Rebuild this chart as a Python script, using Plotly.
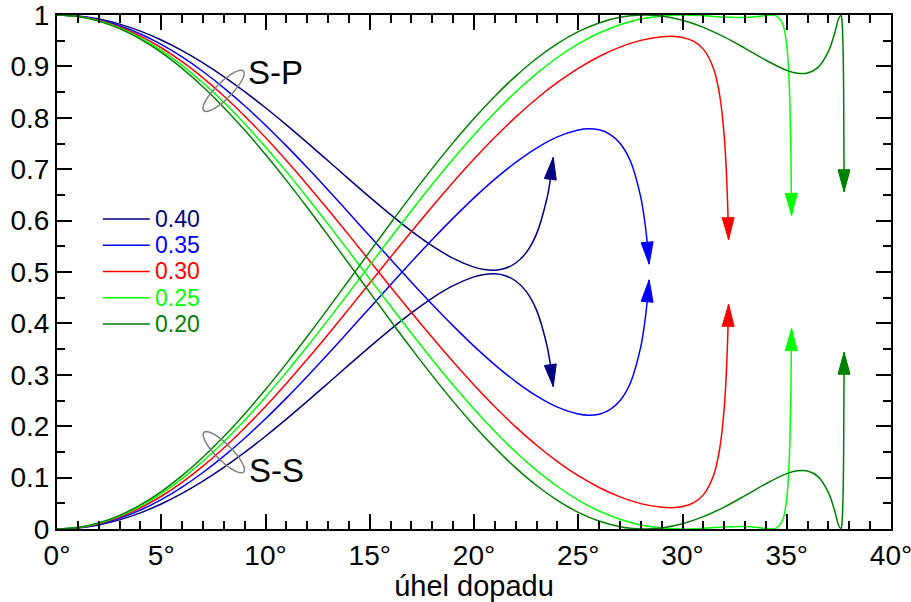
import math
import plotly.graph_objects as go

# ---------------- data ----------------
ratio_labels = ["0.40", "0.35", "0.30", "0.25", "0.20"]
colors = ["#000080", "#0000ff", "#ff0000", "#00ff00", "#008000"]

x_040 = [0, 1, 2, 3, 4, 5, 6, 7, 8, 9, 10, 11, 12, 13, 14, 15, 16, 17, 18, 19, 20,
         20.5, 21, 21.5, 22, 22.5, 23, 23.5, 23.65, 23.8]
sp_040 = [1, .9980, .9921, .9823, .9686, .9514, .9308, .9070, .8803, .8510, .8195,
          .7863, .7518, .7164, .6808, .6456, .6115, .5795, .5506, .5265, .5095,
          .5048, .5036, .5072, .5175, .5376, .5742, .6434, .6770, .7228]
ss_040 = [0, .0020, .0079, .0177, .0314, .0486, .0692, .0930, .1197, .1490, .1805,
          .2137, .2482, .2836, .3192, .3544, .3885, .4205, .4494, .4735, .4905,
          .4952, .4964, .4928, .4825, .4624, .4258, .3566, .3230, .2772]

x_035 = [0, 1, 2, 3, 4, 5, 6, 7, 8, 9, 10, 11, 12, 13, 14, 15, 16, 17, 18, 19, 20,
         21, 22, 23, 24, 25, 25.5, 26, 26.5, 27, 27.5, 28, 28.2, 28.3, 28.4]
sp_035 = [1, .9977, .9907, .9791, .9631, .9427, .9183, .8901, .8583, .8234, .7856,
          .7454, .7033, .6597, .6150, .5699, .5248, .4802, .4368, .3952, .3558,
          .3194, .2868, .2589, .2370, .2236, .2213, .2234, .2316, .2494, .2840,
          .3547, .4052, .4398, .4847]
ss_035 = [0, .0023, .0093, .0209, .0369, .0573, .0817, .1099, .1417, .1766, .2144,
          .2546, .2967, .3403, .3850, .4301, .4752, .5198, .5632, .6048, .6442,
          .6806, .7132, .7411, .7630, .7764, .7787, .7766, .7684, .7506, .7160,
          .6453, .5948, .5602, .5153]

x_030 = [0, 1, 2, 3, 4, 5, 6, 7, 8, 9, 10, 11, 12, 13, 14, 15, 16, 17, 18, 19, 20,
         21, 22, 23, 24, 25, 26, 27, 28, 29, 29.5, 30, 30.5, 31, 31.5, 31.8, 32,
         32.1, 32.2, 32.21]
sp_030 = [1, .9974, .9896, .9767, .9589, .9363, .9091, .8777, .8424, .8035, .7615,
          .7168, .6699, .6214, .5717, .5214, .4710, .4212, .3724, .3252, .2802,
          .2378, .1986, .1629, .1312, .1037, .0807, .0625, .0494, .0422, .0414,
          .0436, .0504, .0664, .1057, .1605, .2350, .3010, .4160, .4370]
ss_030 = [0, .0026, .0104, .0233, .0411, .0637, .0909, .1223, .1576, .1965, .2385,
          .2832, .3301, .3786, .4283, .4786, .5290, .5788, .6276, .6748, .7198,
          .7622, .8014, .8371, .8688, .8963, .9193, .9375, .9506, .9578, .9586,
          .9564, .9496, .9336, .8943, .8395, .7650, .6990, .5840, .5630]

x_025 = [0, 1, 2, 3, 4, 5, 6, 7, 8, 9, 10, 11, 12, 13, 14, 15, 16, 17, 18, 19, 20,
         21, 22, 23, 24, 25, 26, 27, 28, 29, 30, 31, 32, 33, 33.5, 34, 34.3, 34.5,
         34.8, 35, 35.1, 35.15, 35.2, 35.23]
sp_025 = [1, .9972, .9888, .9749, .9556, .9312, .9019, .8681, .8301, .7883, .7432,
          .6953, .6451, .5932, .5402, .4867, .4333, .3807, .3294, .2801, .2334,
          .1898, .1498, .1140, .0827, .0563, .0350, .0189, .0079, .0018, 0,
          .0014, .0041, .0050, .0036, .0009, 0, .0017, .0171, .0597, .1170,
          .1718, .2724, .3898]
ss_025 = [0, .0028, .0112, .0251, .0444, .0688, .0981, .1319, .1699, .2117, .2568,
          .3047, .3549, .4068, .4598, .5133, .5667, .6193, .6706, .7199, .7666,
          .8102, .8502, .8860, .9173, .9437, .9650, .9811, .9921, .9982, 1,
          .9986, .9959, .9950, .9964, .9991, 1, .9983, .9829, .9403, .8830,
          .8282, .7276, .6102]

x_020 = [0, 1, 2, 3, 4, 5, 6, 7, 8, 9, 10, 11, 12, 13, 14, 15, 16, 17, 18, 19, 20,
         21, 22, 23, 24, 25, 26, 27, 28, 29, 30, 31, 32, 33, 34, 35, 35.5, 36,
         36.5, 37, 37.3, 37.5, 37.6, 37.65, 37.7, 37.73, 37.75]
sp_020 = [1, .9970, .9881, .9734, .9530, .9271, .8961, .8603, .8202, .7761, .7286,
          .6782, .6256, .5713, .5160, .4604, .4051, .3509, .2984, .2483, .2013,
          .1579, .1189, .0846, .0557, .0325, .0154, .0045, .0001, .0021, .0102,
          .0240, .0427, .0649, .0881, .1077, .1132, .1128, .1018, .0707, .0351,
          .0059, .0008, .0130, .0628, .1574, .3438]
ss_020 = [0, .0030, .0119, .0266, .0470, .0729, .1039, .1397, .1798, .2239, .2714,
          .3218, .3744, .4287, .4840, .5396, .5949, .6491, .7016, .7517, .7987,
          .8421, .8811, .9154, .9443, .9675, .9846, .9955, .9999, .9979, .9898,
          .9760, .9573, .9351, .9119, .8923, .8868, .8872, .8982, .9293, .9649,
          .9941, .9992, .9870, .9372, .8426, .6562]

group_labels = ["S-P", "S-S"]
x_title = "úhel dopadu"

# ---------------- layout geometry ----------------
FIG_W, FIG_H = 911, 602
M_L, M_R, M_T, M_B = 57, 20, 15, 73
X_MAX, Y_MAX = 40, 1
PW = FIG_W - M_L - M_R
PH = FIG_H - M_T - M_B
SX = PW / X_MAX   # px per degree
SY = PH / Y_MAX   # px per unit
FONT = "Liberation Sans, Arial, Helvetica, sans-serif"

series = [(x_040, sp_040, ss_040), (x_035, sp_035, ss_035), (x_030, sp_030, ss_030),
          (x_025, sp_025, ss_025), (x_020, sp_020, ss_020)]

fig = go.Figure()

HEAD_LEN, HEAD_W = 22, 12


def head(xs, ys):
    x0, y0, x1, y1 = xs[-2], ys[-2], xs[-1], ys[-1]
    dx, dy = (x1 - x0) * SX, (y1 - y0) * SY
    n = math.hypot(dx, dy)
    ux, uy = dx / n, dy / n
    bx, by = x1 * SX - HEAD_LEN * ux, y1 * SY - HEAD_LEN * uy
    px, py = -uy, ux
    c1 = ((bx + HEAD_W / 2 * px) / SX, (by + HEAD_W / 2 * py) / SY)
    c2 = ((bx - HEAD_W / 2 * px) / SX, (by - HEAD_W / 2 * py) / SY)
    return [x1, c1[0], c2[0], x1], [y1, c1[1], c2[1], y1]


for (xs, sp, ss), col in zip(series, colors):
    for ys in (sp, ss):
        fig.add_trace(go.Scatter(x=xs, y=ys, mode="lines",
                                 line=dict(color=col, width=1.5, shape="spline",
                                           smoothing=1),
                                 hoverinfo="skip", showlegend=False))
        hx, hy = head(xs, ys)
        fig.add_trace(go.Scatter(x=hx, y=hy, mode="lines", fill="toself",
                                 fillcolor=col, line=dict(color=col, width=1),
                                 hoverinfo="skip", showlegend=False))

# legend (drawn inside the plot)
LEG_X0, LEG_X1, LEG_TX = 2.2, 4.45, 4.6
LEG_Y0, LEG_DY = 0.603, 0.051
shapes = []
annotations = []
for i, (lab, col) in enumerate(zip(ratio_labels, colors)):
    yy = LEG_Y0 - i * LEG_DY
    shapes.append(dict(type="line", xref="x", yref="y", x0=LEG_X0, x1=LEG_X1,
                       y0=yy, y1=yy, line=dict(color=col, width=1.5)))
    annotations.append(dict(x=LEG_TX, y=yy, xref="x", yref="y", text=lab,
                            showarrow=False, xanchor="left", yanchor="middle",
                            font=dict(family=FONT, size=23, color=col)))


# ellipses marking the groups
def ellipse_path(cx, cy, a_px, b_px, ang_deg):
    ang = math.radians(ang_deg)
    pts = []
    for k in range(73):
        t = 2 * math.pi * k / 72
        ex = a_px * math.cos(t) * math.cos(ang) - b_px * math.sin(t) * math.sin(ang)
        ey = a_px * math.cos(t) * math.sin(ang) + b_px * math.sin(t) * math.cos(ang)
        pts.append((cx + ex / SX, cy + ey / SY))
    return "M " + " L ".join(f"{p[0]:.4f},{p[1]:.5f}" for p in pts) + " Z"


ell_specs = [(7.99, 0.8525, 45), (8.0, 0.1494, -45)]
for cx, cy, ang in ell_specs:
    shapes.append(dict(type="path", xref="x", yref="y",
                       path=ellipse_path(cx, cy, 28, 8, ang),
                       line=dict(color="#808080", width=1.5)))

annotations.append(dict(x=9.07, y=0.888, xref="x", yref="y", text=group_labels[0],
                        showarrow=False, xanchor="left", yanchor="middle",
                        font=dict(family=FONT, size=33, color="black")))
annotations.append(dict(x=9.12, y=0.113, xref="x", yref="y", text=group_labels[1],
                        showarrow=False, xanchor="left", yanchor="middle",
                        font=dict(family=FONT, size=33, color="black")))

axis_common = dict(showline=True, linecolor="black", linewidth=2, mirror="allticks",
                   ticks="inside", ticklen=15, tickwidth=1.5, tickcolor="black",
                   showgrid=False, zeroline=False, ticklabeloverflow="allow",
                   automargin=False,
                   tickfont=dict(family=FONT, size=28, color="black"))

fig.update_layout(
    width=FIG_W, height=FIG_H,
    margin=dict(l=M_L, r=M_R, t=M_T, b=M_B, autoexpand=False),
    paper_bgcolor="white", plot_bgcolor="white",
    font=dict(family=FONT, color="black"),
    shapes=shapes, annotations=annotations,
    xaxis=dict(range=[0, X_MAX], dtick=5, tick0=0, ticksuffix="°",
               minor=dict(ticks="inside", ticklen=8, dtick=1, tick0=0,
                          tickwidth=1.5, tickcolor="black", showgrid=False),
               title=dict(text=x_title, font=dict(family=FONT, size=29), standoff=2),
               **axis_common),
    yaxis=dict(range=[0, Y_MAX], dtick=0.1, tick0=0,
               minor=dict(ticks="inside", ticklen=8, dtick=0.05, tick0=0,
                          tickwidth=1.5, tickcolor="black", showgrid=False),
               **axis_common),
)

fig.write_html("out.html", config={"displayModeBar": False})
